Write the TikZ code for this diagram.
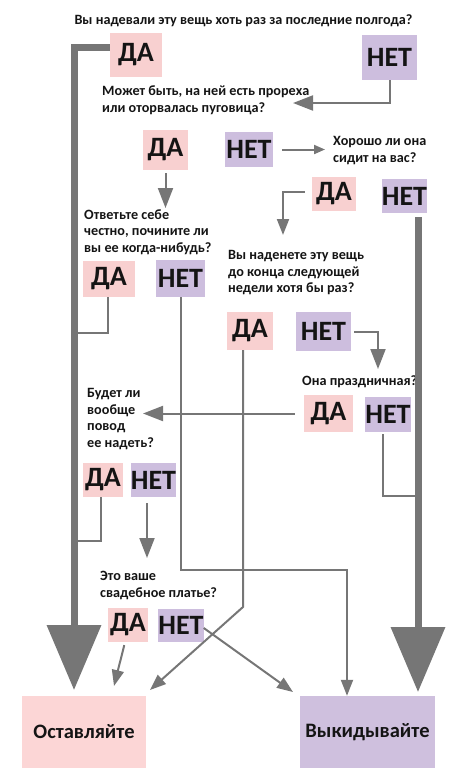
\documentclass[tikz,border=0pt]{standalone}
\usepackage{fontspec}
\setmainfont{Carlito}
\usetikzlibrary{arrows.meta, positioning, calc}
\definecolor{dapink}{RGB}{248,208,208}
\definecolor{netlilac}{RGB}{205,190,222}
\definecolor{keeppink}{RGB}{252,214,214}
\definecolor{tosslilac}{RGB}{207,192,222}
\definecolor{flowgrey}{RGB}{118,118,118}
\definecolor{inkblack}{RGB}{20,20,20}

\begin{document}
\begin{tikzpicture}[x=1pt, y=-1pt,
      yesbox/.style={fill=dapink, text=inkblack, inner sep=0pt,
                    font=\fontsize{28}{28}\selectfont\bfseries},
      nobox/.style={fill=netlilac, text=inkblack, inner sep=0pt,
                    font=\fontsize{28}{28}\selectfont\bfseries},
      endbox/.style={text=inkblack, inner sep=0pt, minimum height=72pt,
                    font=\fontsize{20.5}{20.5}\selectfont\bfseries},
      ask/.style={font=\fontsize{14.2}{16.5}\selectfont\bfseries, text=inkblack,
                    align=left, anchor=west, inner sep=0pt},
      link/.style={draw=flowgrey, line width=2pt},
      trunk/.style={draw=flowgrey, line width=7pt},
      hugehead/.style={-{Triangle[length=65pt, width=53pt]}},
      bighead/.style={-{Triangle[length=20pt, width=15pt]}},
      midhead/.style={-{Triangle[length=16pt, width=12pt]}},
      smallhead/.style={-{Triangle[length=11pt, width=9pt]}}
    ]
      \useasboundingbox (0,0) rectangle (460,774);

      \node[ask, anchor=center] (q1) at (243.5,21) {Вы надевали эту вещь хоть раз за последние полгода?};
      \node[yesbox, minimum width=52pt, minimum height=44pt] (da1) at (136,55) {ДА};
      \node[nobox, minimum width=55pt, minimum height=45pt] (net1) at (389.5,57.5) {НЕТ};

      \node[ask] (q2) at (102,100) {Может быть, на ней есть прореха\\или оторвалась пуговица?};
      \node[yesbox, minimum width=45pt, minimum height=40pt] (da2) at (165.5,150) {ДА};
      \node[nobox, minimum width=48pt, minimum height=35pt] (net2) at (249,149.5) {НЕТ};

      \node[ask] (q3) at (333,150.5) {Хорошо ли она\\сидит на вас?};
      \node[yesbox, minimum width=44pt, minimum height=34pt] (da3) at (334,194) {ДА};
      \node[nobox, minimum width=43pt, minimum height=34pt] (net3) at (404.5,196) {НЕТ};

      \node[ask] (q4) at (84,232) {Ответьте себе\\честно, почините ли\\вы ее когда-нибудь?};
      \node[yesbox, minimum width=52pt, minimum height=36pt] (da4) at (109,279) {ДА};
      \node[nobox, minimum width=49pt, minimum height=37pt] (net4) at (180.5,278.5) {НЕТ};

      \node[ask] (q5) at (228,273) {Вы наденете эту вещь\\до конца следующей\\недели хотя бы раз?};
      \node[yesbox, minimum width=46pt, minimum height=38pt] (da5) at (250,331) {ДА};
      \node[nobox, minimum width=55pt, minimum height=39pt] (net5) at (323.5,331.5) {НЕТ};

      \node[ask] (q6) at (302,382) {Она праздничная?};
      \node[yesbox, minimum width=49pt, minimum height=37pt] (da6) at (328.5,413.5) {ДА};
      \node[nobox, minimum width=44pt, minimum height=35pt] (net6) at (388,414.5) {НЕТ};

      \node[ask] (q7) at (87,419) {Будет ли\\вообще\\повод\\ее надеть?};
      \node[yesbox, minimum width=40pt, minimum height=34pt] (da7) at (103,480) {ДА};
      \node[nobox, minimum width=43pt, minimum height=34pt] (net7) at (153.5,480) {НЕТ};

      \node[ask] (q8) at (100,585.5) {Это ваше\\свадебное платье?};
      \node[yesbox, minimum width=40pt, minimum height=34pt] (da8) at (128,625) {ДА};
      \node[nobox, minimum width=44pt, minimum height=33pt] (net8) at (181,625.5) {НЕТ};

      \node[endbox, fill=keeppink, minimum width=124pt] (keep) at (84,732) {Оставляйте};
      \node[endbox, fill=tosslilac, minimum width=135pt] (toss) at (367.5,732) {Выкидывайте};

      \coordinate (keepin) at (74,690);
      \coordinate (tossin) at (418,692);
      \coordinate (q2in) at (293,103);
      \coordinate (q4in) at (165.5,208);
      \coordinate (q5in) at (283,235);
      \coordinate (j4) at (74,333);
      \coordinate (b4) at (347,570);
      \coordinate (b5) at (243,607);
      \coordinate (keep5) at (150,690);
      \coordinate (q6in) at (378,369);
      \coordinate (q7in) at (143,413.5);
      \coordinate (j6) at (418,496);
      \coordinate (j7) at (74,541);
      \coordinate (q8in) at (147,558);
      \coordinate (keep8) at (114,686);
      \coordinate (toss8) at (293,692);

      \draw[trunk, hugehead] ($(da1.west)+(0,-8)$) -| (keepin);
      \draw[trunk, hugehead, shorten <=4pt] (net3.south -| tossin) -- (tossin);

      \draw[link, bighead] (net1.south) |- (q2in);
      \draw[link, smallhead, shorten <=9pt, shorten >=8pt] (net2.east) -- (net2.east -| q3.west);
      \draw[link, bighead, shorten <=3pt] (da2.south) -- (q4in);
      \draw[link, midhead, shorten <=7pt] ($(da3.west)+(0,-2)$) -| (q5in);
      \draw[link] ($(da4.south)+(-1,0)$) |- (j4);
      \draw[link, midhead] (net4.south) |- (b4) -- (toss.north -| b4);
      \draw[link, midhead] ($(da5.south)+(-7,0)$) -- (b5) -- (keep5);
      \draw[link, bighead, shorten <=3pt] (net5.east) -| (q6in);
      \draw[link, bighead, shorten <=9pt] (da6.west) -- (q7in);
      \draw[link] ($(net6.south)+(-5,2)$) |- (j6);
      \draw[link] ($(da7.south)+(-2,0)$) |- (j7);
      \draw[link, bighead, shorten <=6pt] ($(net7.south)+(-6.5,0)$) -- (q8in);
      \draw[link, midhead, shorten <=3pt] ($(da8.south)+(-3,0)$) -- (keep8);
      \draw[link, midhead] ($(net8.east)+(0,2.5)$) -- (toss8);
    \end{tikzpicture}
\end{document}
